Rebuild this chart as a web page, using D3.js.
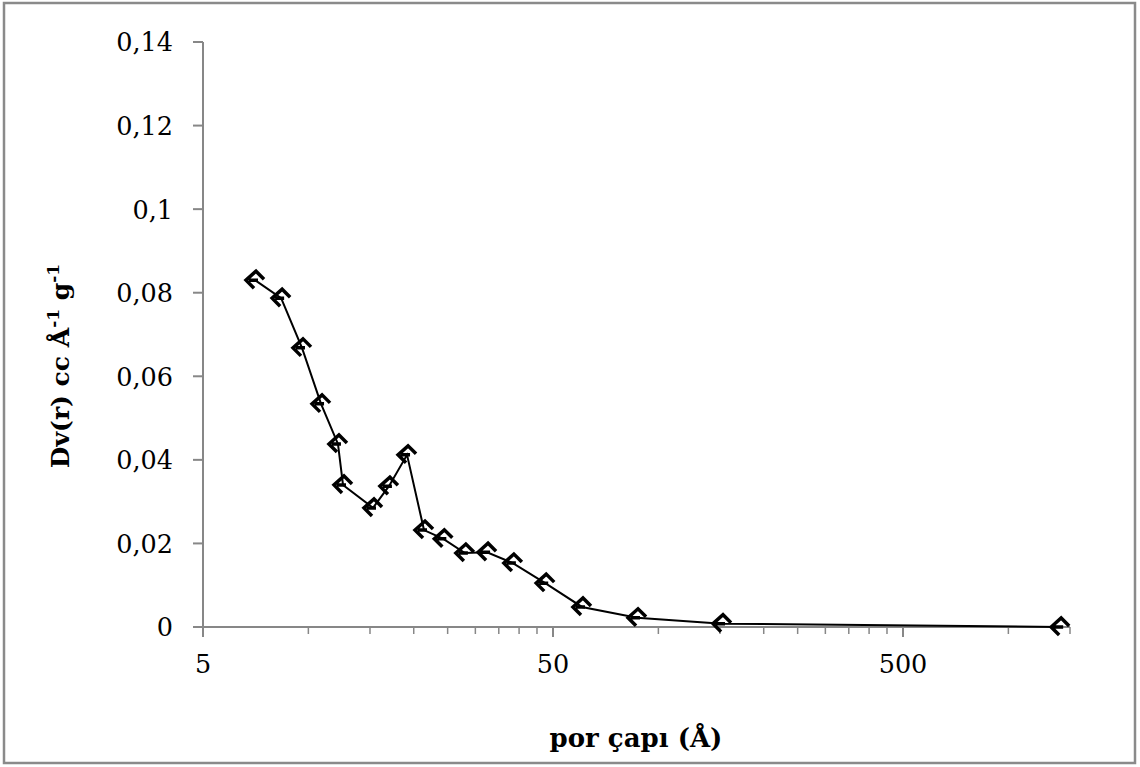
<!DOCTYPE html>
<html><head><meta charset="utf-8">
<script src="https://cdn.jsdelivr.net/npm/d3@7"></script>
<style>body{margin:0;background:#fff}svg{display:block}</style>
</head><body>
<script>
const poreDiameter = [7.04, 8.36, 9.59, 10.87, 12.15, 12.56, 15.3, 16.99, 19.14, 21.4, 24.3, 28.0, 32.4, 38.4, 47.5, 60.5, 86.9, 152, 1406];
const dvr = [0.0830, 0.0787, 0.0668, 0.0534, 0.0438, 0.0340, 0.0285, 0.0337, 0.0412, 0.0232, 0.0211, 0.0177, 0.0179, 0.0153, 0.0105, 0.0048, 0.0022, 0.0008, 0.0000];
const yTicks = [0, 0.02, 0.04, 0.06, 0.08, 0.1, 0.12, 0.14];
const xMajorTicks = [5, 50, 500];
const xMinorTicks = [10,15,20,25,30,35,40,45,100,150,200,250,300,350,400,450,1000,1500];

const W = 1140, H = 767;
const svg = d3.select("body").append("svg").attr("width", W).attr("height", H);
const font = "'DejaVu Serif', serif";
const axisColor = "#878787";

svg.append("rect").attr("x", 4).attr("y", 3).attr("width", 1131).attr("height", 760)
  .attr("fill", "none").attr("stroke", "#8a8a8a").attr("stroke-width", 2.5);

const x = d3.scaleLog().domain([5, 1500]).range([203, 1070]);
const y = d3.scaleLinear().domain([0, 0.14]).range([627, 42]);

// Y axis
const gy = svg.append("g");
gy.append("line").attr("x1", 203).attr("x2", 203).attr("y1", y(0.14)).attr("y2", y(0))
  .attr("stroke", axisColor).attr("stroke-width", 2);
gy.selectAll(".yt").data(yTicks).enter().append("line")
  .attr("x1", 193).attr("x2", 203).attr("y1", d => y(d)).attr("y2", d => y(d))
  .attr("stroke", axisColor).attr("stroke-width", 2);
gy.selectAll(".yl").data(yTicks).enter().append("text")
  .attr("x", 173).attr("y", d => y(d)).attr("dy", "0.37em")
  .attr("text-anchor", "end").attr("font-family", font).attr("font-size", 25.5)
  .text(d => d === 0 ? "0" : String(+d.toFixed(2)).replace(".", ","));

// X axis
const gx = svg.append("g");
gx.append("line").attr("x1", x(5)).attr("x2", x(1500)).attr("y1", 627).attr("y2", 627)
  .attr("stroke", axisColor).attr("stroke-width", 2);
gx.selectAll(".xmaj").data(xMajorTicks).enter().append("line")
  .attr("x1", d => x(d)).attr("x2", d => x(d)).attr("y1", 627).attr("y2", 637)
  .attr("stroke", axisColor).attr("stroke-width", 2);
gx.selectAll(".xmin").data(xMinorTicks).enter().append("line")
  .attr("x1", d => x(d)).attr("x2", d => x(d)).attr("y1", 627).attr("y2", 634)
  .attr("stroke", axisColor).attr("stroke-width", 1.5);
gx.selectAll(".xl").data(xMajorTicks).enter().append("text")
  .attr("x", d => x(d)).attr("y", 673).attr("text-anchor", "middle")
  .attr("font-family", font).attr("font-size", 25.5).text(d => d);

// Titles
svg.append("text").attr("x", 636).attr("y", 747).attr("text-anchor", "middle")
  .attr("font-family", font).attr("font-weight", "bold").attr("font-size", 26)
  .text("por çapı (Å)");
const yt = svg.append("text").attr("transform", "translate(69,366) rotate(-90)")
  .attr("text-anchor", "middle").attr("font-family", font).attr("font-weight", "bold").attr("font-size", 25);
yt.append("tspan").text("Dv(r) cc  Å");
yt.append("tspan").attr("dy", -10).attr("font-size", 17).text("-1");
yt.append("tspan").attr("dy", 10).text(" g");
yt.append("tspan").attr("dy", -10).attr("font-size", 17).text("-1");

// Data
const pts = poreDiameter.map((d, i) => [d, dvr[i]]);
svg.append("path").datum(pts)
  .attr("d", d3.line().x(d => x(d[0])).y(d => y(d[1])))
  .attr("fill", "none").attr("stroke", "#000").attr("stroke-width", 2);
svg.selectAll(".m").data(pts).enter().append("path")
  .attr("transform", d => `translate(${x(d[0])},${y(d[1])})`)
  .attr("d", "M9,-1 L1,-9 L-9,0 L-1,8 M-6,0 L3,0")
  .attr("fill", "none").attr("stroke", "#000").attr("stroke-width", 3.5);
</script>
</body></html>
